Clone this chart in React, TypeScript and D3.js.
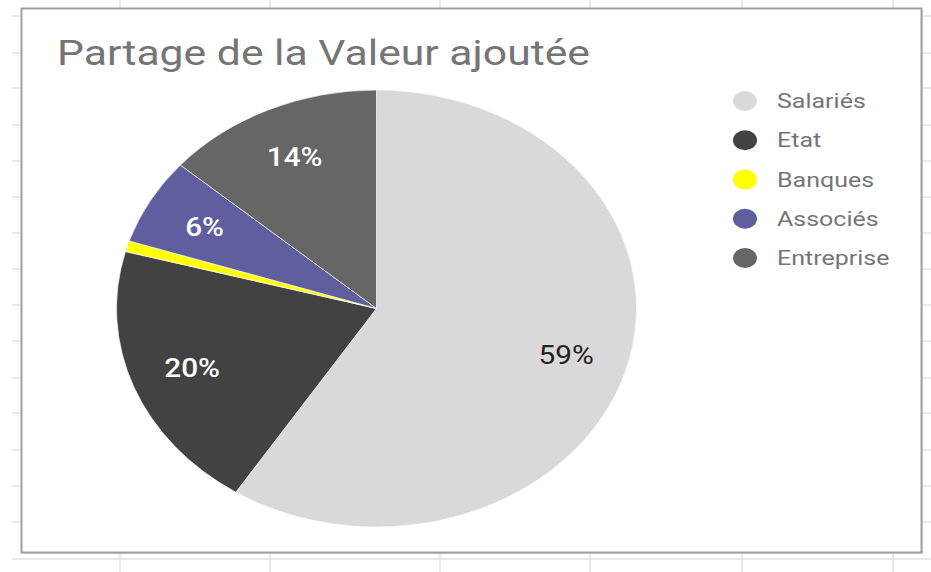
import React from "react";
import * as d3 from "d3";

const categories = ["Salariés", "Etat", "Banques", "Associés", "Entreprise"];
const values = [59.1, 20.1, 0.8, 6.4, 13.6];
const colors = ["#d9d9d9", "#424242", "#ffff00", "#5f5f9f", "#666666"];
const labelColors = ["#222222", "#ffffff", "#ffffff", "#ffffff", "#ffffff"];
const title = "Partage de la Valeur ajoutée";
const gridX = [120, 270, 440, 590, 742, 893];
const gridY = [16, 53, 88, 125, 161, 197, 233, 269, 305, 341, 378, 413, 450, 486, 522];

const W = 931;
const H = 572;
const SX = 1.19;
const CX = 376.5;
const CY = 308.5;
const R = 218.5;

export default function App() {
  const pie = d3.pie<number>().sort(null).value((d) => d)(values);
  const arc = d3.arc<d3.PieArcDatum<number>>().innerRadius(0).outerRadius(R);
  const labelArc = d3
    .arc<d3.PieArcDatum<number>>()
    .innerRadius(R * 0.76)
    .outerRadius(R * 0.76);
  const total = d3.sum(values);
  const legendY = d3.scalePoint<string>().domain(categories).range([101, 258]);

  return (
    <svg
      width={W}
      height={H}
      style={{ position: "absolute", left: 0, top: 0 }}
      fontFamily="Roboto, Arial, sans-serif"
    >
      <rect x={0} y={0} width={W} height={H} fill="#ffffff" />
      {gridX.map((x) => (
        <line key={"gx" + x} x1={x} x2={x} y1={0} y2={H} stroke="#e2e2e2" strokeWidth={1.5} />
      ))}
      {gridY.map((y) => (
        <line key={"gy" + y} x1={12} x2={W} y1={y} y2={y} stroke="#e2e2e2" strokeWidth={1.5} />
      ))}
      <line x1={12} x2={W} y1={559} y2={559} stroke="#e2e2e2" strokeWidth={1.5} />
      <rect x={23} y={10} width={900} height={544} fill="#bdbdbd" opacity={0.5} />
      <rect x={21.5} y={8.5} width={900} height={544} fill="#ffffff" stroke="#a0a0a0" strokeWidth={2} />

      <text
        transform={`translate(57,65) scale(1.22,1)`}
        fontSize={35}
        fill="#757575"
      >
        {title}
      </text>

      <g transform={`translate(${CX},${CY}) scale(${SX},1)`}>
        {pie.map((d, i) => (
          <path key={i} d={arc(d) || ""} fill={colors[i]} stroke="#ffffff" strokeWidth={0.6} />
        ))}
      </g>
      {pie.map((d, i) => {
        const pct = Math.round((d.value / total) * 100);
        if (d.value / total < 0.02) return null;
        const [lx, ly] = labelArc.centroid(d);
        return (
          <text
            key={"l" + i}
            transform={`translate(${CX + lx * SX},${CY + ly}) scale(${SX},1)`}
            textAnchor="middle"
            dy="0.36em"
            fontSize={25}
            fontWeight={i === 0 ? 400 : 500}
            fill={labelColors[i]}
          >
            {pct + "%"}
          </text>
        );
      })}

      {categories.map((c, i) => {
        const y = legendY(c) as number;
        return (
          <g key={"lg" + i}>
            <ellipse cx={745} cy={y} rx={12} ry={10} fill={colors[i]} />
            <text
              transform={`translate(777,${y + 7}) scale(${SX},1)`}
              fontSize={21}
              fill="#757575"
            >
              {c}
            </text>
          </g>
        );
      })}
    </svg>
  );
}
